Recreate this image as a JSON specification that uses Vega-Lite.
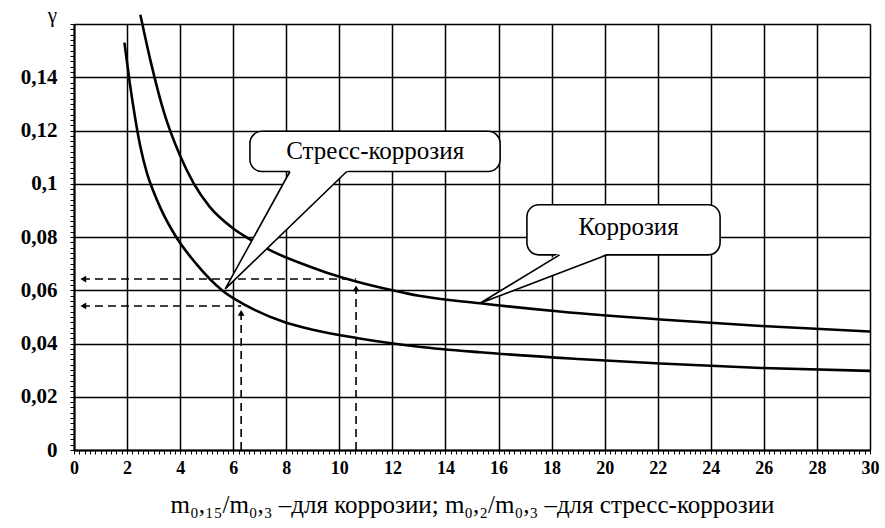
{
  "$schema": "https://vega.github.io/schema/vega-lite/v6.json",
  "width": 796,
  "height": 426,
  "autosize": "none",
  "padding": {"left": 74, "top": 24, "right": 15, "bottom": 78},
  "background": "white",
  "config": {
    "view": {"stroke": null},
    "font": "Liberation Serif"
  },
  "datasets": {
    "curves": [
      {"series": "Коррозия", "x": 2.5, "y": 0.1635},
      {"series": "Коррозия", "x": 2.9, "y": 0.1455},
      {"series": "Коррозия", "x": 3.4, "y": 0.1265},
      {"series": "Коррозия", "x": 4.0, "y": 0.1105},
      {"series": "Коррозия", "x": 4.5, "y": 0.1003},
      {"series": "Коррозия", "x": 5.1, "y": 0.0915},
      {"series": "Коррозия", "x": 6.0, "y": 0.0832},
      {"series": "Коррозия", "x": 6.6, "y": 0.0793},
      {"series": "Коррозия", "x": 7.5, "y": 0.0745},
      {"series": "Коррозия", "x": 8.5, "y": 0.0703},
      {"series": "Коррозия", "x": 9.5, "y": 0.0667},
      {"series": "Коррозия", "x": 10.6, "y": 0.0634},
      {"series": "Коррозия", "x": 12.0, "y": 0.06},
      {"series": "Коррозия", "x": 13.0, "y": 0.0579},
      {"series": "Коррозия", "x": 15.3, "y": 0.0551},
      {"series": "Коррозия", "x": 18.3, "y": 0.052},
      {"series": "Коррозия", "x": 22.1, "y": 0.049},
      {"series": "Коррозия", "x": 25.9, "y": 0.0466},
      {"series": "Коррозия", "x": 30.0, "y": 0.0445},
      {"series": "Стресс-коррозия", "x": 1.9, "y": 0.153},
      {"series": "Стресс-коррозия", "x": 2.1, "y": 0.138},
      {"series": "Стресс-коррозия", "x": 2.3, "y": 0.125},
      {"series": "Стресс-коррозия", "x": 2.5, "y": 0.114},
      {"series": "Стресс-коррозия", "x": 2.75, "y": 0.104},
      {"series": "Стресс-коррозия", "x": 3.0, "y": 0.097},
      {"series": "Стресс-коррозия", "x": 3.3, "y": 0.09},
      {"series": "Стресс-коррозия", "x": 3.85, "y": 0.08},
      {"series": "Стресс-коррозия", "x": 4.6, "y": 0.07},
      {"series": "Стресс-коррозия", "x": 5.6, "y": 0.0598},
      {"series": "Стресс-коррозия", "x": 6.5, "y": 0.0542},
      {"series": "Стресс-коррозия", "x": 8.0, "y": 0.0478},
      {"series": "Стресс-коррозия", "x": 9.0, "y": 0.0452},
      {"series": "Стресс-коррозия", "x": 10.7, "y": 0.042},
      {"series": "Стресс-коррозия", "x": 13.0, "y": 0.0388},
      {"series": "Стресс-коррозия", "x": 15.3, "y": 0.0367},
      {"series": "Стресс-коррозия", "x": 19.0, "y": 0.0342},
      {"series": "Стресс-коррозия", "x": 22.1, "y": 0.0325},
      {"series": "Стресс-коррозия", "x": 25.9, "y": 0.0308},
      {"series": "Стресс-коррозия", "x": 30.0, "y": 0.0297}
    ],
    "guides": [
      {"x": 0.3, "x2": 10.63, "y": 0.0642, "y2": 0.0642},
      {"x": 0.3, "x2": 6.3, "y": 0.0541, "y2": 0.0541},
      {"x": 6.3, "x2": 6.3, "y": 0, "y2": 0.052},
      {"x": 10.63, "x2": 10.63, "y": 0, "y2": 0.0612}
    ],
    "arrows": [
      {"x": 0.35, "y": 0.0642, "dir": "left"},
      {"x": 0.35, "y": 0.0541, "dir": "left"},
      {"x": 6.3, "y": 0.0515, "dir": "up"},
      {"x": 10.63, "y": 0.0607, "dir": "up"}
    ],
    "boxes": [
      {"x": 6.63, "x2": 16.06, "y": 0.1046, "y2": 0.1197},
      {"x": 17.07, "x2": 24.35, "y": 0.0733, "y2": 0.0921}
    ],
    "tailfill": [
      {"c": "s", "i": 1, "x": 8.17, "y": 0.1053},
      {"c": "s", "i": 2, "x": 5.7, "y": 0.0605},
      {"c": "s", "i": 3, "x": 10.35, "y": 0.1053},
      {"c": "k", "i": 1, "x": 18.32, "y": 0.074},
      {"c": "k", "i": 2, "x": 15.3, "y": 0.0551},
      {"c": "k", "i": 3, "x": 20.15, "y": 0.074}
    ],
    "tails": [
      {"c": "s", "i": 1, "x": 8.14, "y": 0.1046},
      {"c": "s", "i": 2, "x": 5.7, "y": 0.0605},
      {"c": "s", "i": 3, "x": 10.28, "y": 0.1046},
      {"c": "k", "i": 1, "x": 18.3, "y": 0.0733},
      {"c": "k", "i": 2, "x": 15.3, "y": 0.0551},
      {"c": "k", "i": 3, "x": 20.1, "y": 0.0733}
    ],
    "labels": [
      {"x": 11.35, "y": 0.1122, "text": "Стресс-коррозия"},
      {"x": 20.9, "y": 0.0836, "text": "Коррозия"}
    ]
  },
  "layer": [
    {
      "layer": [
        {
          "data": {"name": "curves"},
          "mark": {"type": "line", "color": "black", "strokeWidth": 2.6, "interpolate": "monotone"},
          "encoding": {
            "x": {
              "field": "x", "type": "quantitative",
              "scale": {"domain": [0, 30], "nice": false, "zero": false},
              "axis": {
                "values": [0,1,2,3,4,5,6,7,8,9,10,11,12,13,14,15,16,17,18,19,20,21,22,23,24,25,26,27,28,29,30],
                "labelExpr": "datum.value % 2 == 0 ? format(datum.value, 'd') : ''",
                "grid": true, "gridColor": "black", "gridWidth": 1.5, "gridOpacity": 1,
                "domain": true, "domainColor": "black", "domainWidth": 2,
                "ticks": false,
                "labelFont": "Liberation Serif", "labelFontSize": 18, "labelFontWeight": "bold", "labelColor": "black",
                "labelPadding": 9, "labelFlush": false, "labelOverlap": false,
                "title": "m₀,₁₅/m₀,₃ –для коррозии;  m₀,₂/m₀,₃ –для стресс-коррозии",
                "titleFont": "Liberation Serif", "titleFontSize": 25, "titleFontWeight": "normal", "titleColor": "black",
                "titlePadding": 15
              }
            },
            "y": {
              "field": "y", "type": "quantitative",
              "scale": {"domain": [0, 0.16], "nice": false},
              "axis": {
                "values": [0,0.01,0.02,0.03,0.04,0.05,0.06,0.07,0.08,0.09,0.1,0.11,0.12,0.13,0.14,0.15,0.16],
                "labelExpr": "datum.value < 0.155 && round(datum.value * 100) % 2 == 0 ? replace(format(datum.value, '~g'), '.', ',') : ''",
                "grid": true, "gridColor": "black", "gridWidth": 1.5, "gridOpacity": 1,
                "domain": true, "domainColor": "black", "domainWidth": 2,
                "ticks": false,
                "labelFont": "Liberation Serif", "labelFontSize": 21, "labelFontWeight": "bold", "labelColor": "black",
                "labelPadding": 17, "labelFlush": false, "labelOverlap": false,
                "title": "γ",
                "titleAngle": 0, "titleX": -22, "titleY": -9, "titleAlign": "center", "titleBaseline": "middle",
                "titleFont": "Liberation Serif", "titleFontSize": 21, "titleFontWeight": "normal", "titleColor": "black"
              }
            },
            "detail": {"field": "series"}
          }
        },
        {
          "data": {"name": "guides"},
          "mark": {"type": "rule", "color": "black", "strokeWidth": 1.6, "strokeDash": [8, 5]},
          "encoding": {
            "x": {"field": "x", "type": "quantitative"},
            "x2": {"field": "x2"},
            "y": {"field": "y", "type": "quantitative"},
            "y2": {"field": "y2"}
          }
        },
        {
          "data": {"name": "arrows"},
          "mark": {"type": "point", "filled": true, "color": "black", "size": 45, "opacity": 1},
          "encoding": {
            "x": {"field": "x", "type": "quantitative"},
            "y": {"field": "y", "type": "quantitative"},
            "shape": {"field": "dir", "type": "nominal", "scale": {"domain": ["left", "up"], "range": ["triangle-left", "triangle-up"]}, "legend": null}
          }
        },
        {
          "data": {"name": "boxes"},
          "mark": {"type": "rect", "fill": "white", "stroke": "black", "strokeWidth": 1.6, "cornerRadius": 12},
          "encoding": {
            "x": {"field": "x", "type": "quantitative"},
            "x2": {"field": "x2"},
            "y": {"field": "y", "type": "quantitative"},
            "y2": {"field": "y2"}
          }
        },
        {
          "data": {"name": "tailfill"},
          "mark": {"type": "line", "fill": "white", "stroke": "white", "strokeWidth": 0.5},
          "encoding": {
            "x": {"field": "x", "type": "quantitative"},
            "y": {"field": "y", "type": "quantitative"},
            "detail": {"field": "c"},
            "order": {"field": "i", "type": "quantitative"}
          }
        },
        {
          "data": {"name": "tails"},
          "mark": {"type": "line", "color": "black", "strokeWidth": 1.6},
          "encoding": {
            "x": {"field": "x", "type": "quantitative"},
            "y": {"field": "y", "type": "quantitative"},
            "detail": {"field": "c"},
            "order": {"field": "i", "type": "quantitative"}
          }
        },
        {
          "data": {"name": "labels"},
          "mark": {"type": "text", "font": "Liberation Serif", "fontSize": 25, "color": "black", "align": "center", "baseline": "middle"},
          "encoding": {
            "x": {"field": "x", "type": "quantitative"},
            "y": {"field": "y", "type": "quantitative"},
            "text": {"field": "text"}
          }
        }
      ]
    },
    {
      "data": {"name": "curves"},
      "mark": {"type": "point", "opacity": 0},
      "encoding": {
        "x": {
          "field": "x", "type": "quantitative",
          "scale": {"domain": [0, 30], "nice": false, "zero": false},
          "axis": {"orient": "bottom", "tickCount": 150, "labels": false, "grid": false, "domain": false, "ticks": true, "tickSize": 4, "tickColor": "black", "tickWidth": 1, "title": null}
        },
        "y": {
          "field": "y", "type": "quantitative",
          "scale": {"domain": [0, 0.16], "nice": false},
          "axis": {"orient": "left", "tickCount": 80, "labels": false, "grid": false, "domain": false, "ticks": true, "tickSize": 4, "tickColor": "black", "tickWidth": 1, "title": null}
        }
      }
    }
  ],
  "resolve": {"axis": {"x": "independent", "y": "independent"}}
}
